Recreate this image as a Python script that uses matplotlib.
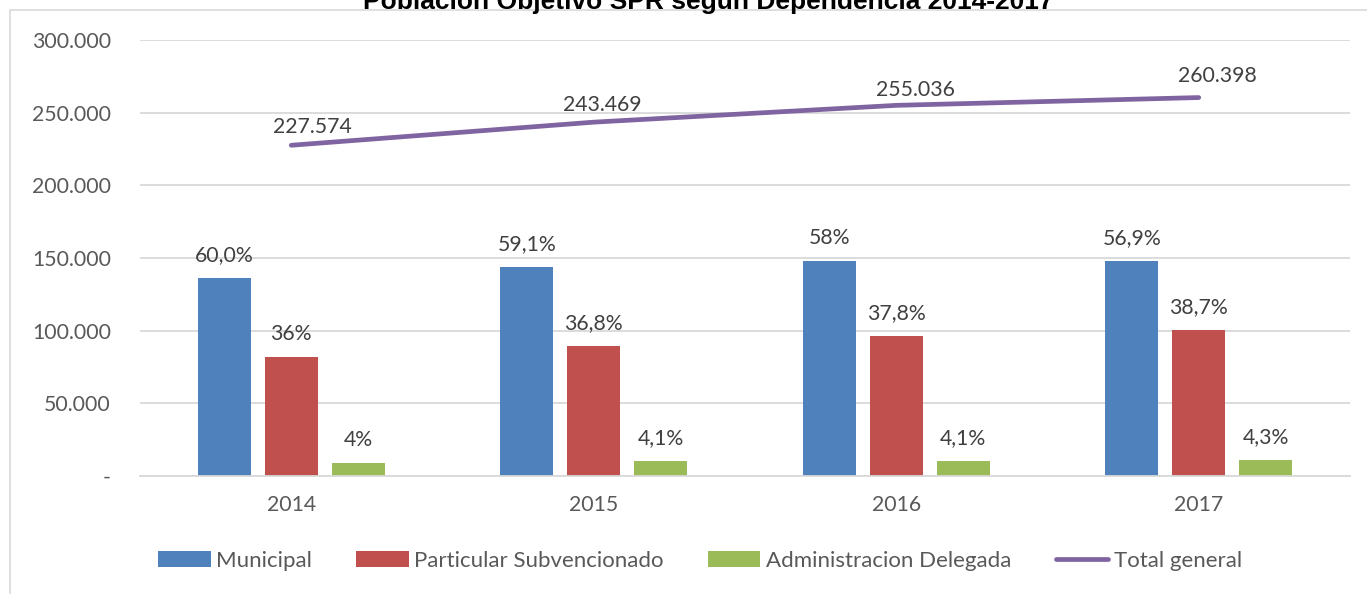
import matplotlib.pyplot as plt
import matplotlib.patches as mpatches
import numpy as np

plt.rcParams['font.family'] = ['Lato', 'DejaVu Sans']

years = ['2014', '2015', '2016', '2017']
municipal = [136544, 143890, 147921, 148166]
particular = [81927, 89597, 96404, 100774]
administracion = [9103, 9982, 10456, 11197]
total = [227574, 243469, 255036, 260398]

municipal_lbl = ['60,0%', '59,1%', '58%', '56,9%']
particular_lbl = ['36%', '36,8%', '37,8%', '38,7%']
administracion_lbl = ['4%', '4,1%', '4,1%', '4,3%']
total_lbl = ['227.574', '243.469', '255.036', '260.398']

yticks = [0, 50000, 100000, 150000, 200000, 250000, 300000]
ytick_labels = ['-', '50.000', '100.000', '150.000', '200.000', '250.000', '300.000']

# label nudges for the total line (pixels)
total_offsets = [(21, 12.5), (9, 11.5), (19, 9), (19, 15.5)]

W, H = 1367, 594
fig = plt.figure(figsize=(W / 100, H / 100), dpi=100)

# chart frame
fig.patches.append(mpatches.Rectangle((10 / W, -0.1), 1.2, 1 - 10 / H + 0.1,
                                      transform=fig.transFigure, fill=False,
                                      edgecolor='#d9d9d9', linewidth=1.2))

ax = fig.add_axes([140 / W, 1 - 476 / H, (1350 - 140) / W, (476 - 40) / H])

x = np.arange(len(years))
bw = 0.175
step = 0.221
txt = '#404040'
fs = 15.3

series = [(municipal, municipal_lbl, '#4F81BD', 'Municipal', -step),
          (particular, particular_lbl, '#C0504D', 'Particular Subvencionado', 0),
          (administracion, administracion_lbl, '#9BBB59', 'Administracion Delegada', step)]

handles = []
for vals, lbls, col, name, off in series:
    b = ax.bar(x + off, vals, bw, color=col, label=name, zorder=2)
    handles.append(b)
    for xi, v, s in zip(x + off, vals, lbls):
        ax.annotate(s, (xi, v), xytext=(0, 12.2), textcoords='offset points',
                    ha='center', va='baseline', fontsize=fs, color=txt)

ln, = ax.plot(x, total, color='#8064A2', linewidth=3.4, solid_capstyle='round',
              label='Total general', zorder=3)
handles.append(ln)
for xi, v, s, (dx, dy) in zip(x, total, total_lbl, total_offsets):
    ax.annotate(s, (xi, v), xytext=(dx * 0.72, dy * 0.72), textcoords='offset points',
                ha='center', va='baseline', fontsize=fs, color=txt)

ax.set_xlim(-0.5, 3.5)
ax.set_ylim(0, 300000)
ax.set_yticks(yticks)
ax.set_yticklabels(ytick_labels)
ax.set_xticks(x)
ax.set_xticklabels(years)
ax.tick_params(axis='both', length=0, labelsize=fs, labelcolor='#595959')
ax.tick_params(axis='y', pad=21)
ax.tick_params(axis='x', pad=14)
ax.grid(axis='y', color='#d9d9d9', linewidth=1.3, zorder=0)
ax.set_axisbelow(True)
for sp in ['top', 'right', 'left']:
    ax.spines[sp].set_visible(False)
ax.spines['bottom'].set_color('#d9d9d9')
ax.spines['bottom'].set_linewidth(1.3)

fig.text(708 / W, 1 - 9 / H, 'Población Objetivo SPR según Dependencia 2014-2017',
         ha='center', va='baseline', fontsize=19, fontweight='bold',
         family='Liberation Sans', color='black')

fig.legend(handles, [h.get_label() for h in handles], loc='center',
           bbox_to_anchor=(700 / W, 1 - 561 / H),
           ncol=4, frameon=False, fontsize=16, handlelength=2.35, handleheight=0.75,
           handletextpad=0.25, columnspacing=2.0, labelcolor='#595959')

fig.savefig('out.png', dpi=100)
